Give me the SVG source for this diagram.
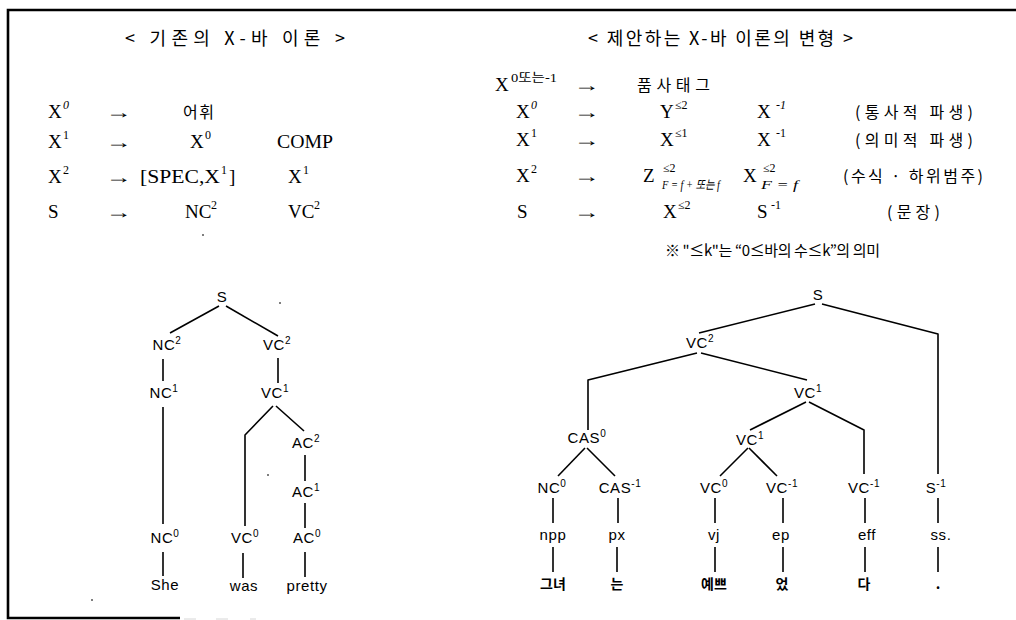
<svg xmlns="http://www.w3.org/2000/svg" width="1016" height="620" viewBox="0 0 1016 620">
  <style>
    .frame { stroke:#000; stroke-width:2.6; fill:none; }
    .ttl { font-family:"Noto Sans CJK KR", "Liberation Sans", sans-serif; font-size:18px; fill:#000; }
    .rl { font-family:"Liberation Serif", "Noto Sans CJK KR", serif; font-size:19px; fill:#000; }
    .arr { font-family:"Liberation Serif", serif; font-size:18px; fill:#000; }
    .sp { font-family:"Liberation Serif", "Noto Sans CJK KR", serif; font-size:12px; fill:#000; }
    .it { font-style:italic; }
    .kr { font-family:"Noto Sans CJK KR", sans-serif; font-size:16px; fill:#000; }
    .note { font-family:"Noto Sans CJK KR", "Liberation Sans", sans-serif; font-size:15px; fill:#000; }
    .nd { font-family:"Liberation Sans", "Noto Sans CJK KR", sans-serif; font-size:15px; text-anchor:middle; fill:#000; letter-spacing:0.6px; }
    .nk { font-family:"Noto Sans CJK KR", sans-serif; font-size:14px; text-anchor:middle; fill:#000; font-weight:bold; }
    .edge { stroke:#000; stroke-width:1.6; fill:none; stroke-linejoin:round; }
    .speck { fill:#555; }
  </style>

  <!-- frame -->
  <path class="frame" d="M1016,10 H8 V618 H180"/>
  <path d="M184,619 H196 M216,619 H228 M250,619 H256" stroke="#ccc" stroke-width="0.8"/>

  <!-- headings -->
  <text class="ttl" x="125" y="45" textLength="220" lengthAdjust="spacing">&lt; 기존의 X-바 이론 &gt;</text>
  <text class="ttl" x="588" y="45" textLength="265" lengthAdjust="spacing">&lt; 제안하는 X-바 이론의 변형 &gt;</text>

  <!-- standard X-bar rules -->
  <g id="rules-standard">
    <text class="rl" x="48" y="118">X</text><text class="sp it" x="63" y="109">0</text>
    <text class="arr" transform="translate(106,118) scale(1.45,1)">→</text>
    <text class="kr" x="183" y="118" textLength="31" lengthAdjust="spacing">어휘</text>

    <text class="rl" x="48" y="148">X</text><text class="sp" x="63" y="139">1</text>
    <text class="arr" transform="translate(106,148) scale(1.45,1)">→</text>
    <text class="rl" x="190" y="148">X</text><text class="sp" x="205" y="139">0</text>
    <text class="rl" x="277" y="148" textLength="56" lengthAdjust="spacingAndGlyphs">COMP</text>

    <text class="rl" x="48" y="183">X</text><text class="sp" x="63" y="174">2</text>
    <text class="arr" transform="translate(106,183) scale(1.45,1)">→</text>
    <text class="rl" x="140" y="183" textLength="80" lengthAdjust="spacingAndGlyphs">[SPEC,X</text><text class="sp" x="221" y="174">1</text><text class="rl" x="229" y="183">]</text>
    <text class="rl" x="288" y="183">X</text><text class="sp" x="303" y="174">1</text>

    <text class="rl" x="48" y="218">S</text>
    <text class="arr" transform="translate(106,218) scale(1.45,1)">→</text>
    <text class="rl" x="185" y="218">NC</text><text class="sp" x="211" y="209">2</text>
    <text class="rl" x="288" y="218">VC</text><text class="sp" x="314" y="209">2</text>
  </g>

  <!-- proposed X-bar rules -->
  <g id="rules-proposed">
    <text class="rl" x="495" y="91">X</text><text class="sp" x="511" y="82" textLength="46" lengthAdjust="spacingAndGlyphs">0또는-1</text>
    <text class="arr" transform="translate(574,91) scale(1.45,1)">→</text>
    <text class="kr" x="637" y="91" textLength="73" lengthAdjust="spacing">품사태그</text>

    <text class="rl" x="516" y="118">X</text><text class="sp it" x="531" y="109">0</text>
    <text class="arr" transform="translate(574,118) scale(1.45,1)">→</text>
    <text class="rl" x="660" y="118">Y</text><text class="sp" x="675" y="109">≤2</text>
    <text class="rl" x="757" y="118">X</text><text class="sp" x="776" y="109">-<tspan class="it">1</tspan></text>
    <text class="kr" x="855" y="118" textLength="118" lengthAdjust="spacing">(통사적 파생)</text>

    <text class="rl" x="516" y="146">X</text><text class="sp" x="531" y="137">1</text>
    <text class="arr" transform="translate(574,146) scale(1.45,1)">→</text>
    <text class="rl" x="660" y="146">X</text><text class="sp" x="675" y="137">≤1</text>
    <text class="rl" x="757" y="146">X</text><text class="sp" x="776" y="137">-1</text>
    <text class="kr" x="855" y="146" textLength="118" lengthAdjust="spacing">(의미적 파생)</text>

    <text class="rl" x="516" y="182">X</text><text class="sp" x="531" y="173">2</text>
    <text class="arr" transform="translate(574,182) scale(1.45,1)">→</text>
    <text class="rl" x="643" y="182">Z</text><text class="sp" x="663" y="172">≤2</text>
    <text class="sp it" x="662" y="189" textLength="58" lengthAdjust="spacingAndGlyphs">F = f + 또는 f</text>
    <text class="rl" x="743" y="182">X</text><text class="sp" x="763" y="172">≤2</text>
    <text class="sp it" x="761" y="189" textLength="37" lengthAdjust="spacingAndGlyphs">F = f</text>
    <text class="kr" x="843" y="182" textLength="140" lengthAdjust="spacing">(수식 · 하위범주)</text>

    <text class="rl" x="517" y="218">S</text>
    <text class="arr" transform="translate(574,218) scale(1.45,1)">→</text>
    <text class="rl" x="663" y="218">X</text><text class="sp" x="678" y="209">≤2</text>
    <text class="rl" x="757" y="218">S</text><text class="sp" x="771" y="209">-1</text>
    <text class="kr" x="887" y="218" textLength="53" lengthAdjust="spacing">(문장)</text>

    <text class="note" x="665" y="256" textLength="215" lengthAdjust="spacing">※ "≤k"는 “0≤바의 수≤k”의 의미</text>
  </g>

  <!-- scan specks -->
  <circle class="speck" cx="203" cy="235" r="1"/>
  <circle class="speck" cx="280" cy="303" r="1"/>
  <circle class="speck" cx="268" cy="475" r="1"/>
  <circle class="speck" cx="92" cy="600" r="1"/>

  <!-- connectors -->
  <g id="connectors">
    <!-- standard tree -->
    <path class="edge" d="M219,306 L170,333"/>
    <path class="edge" d="M226,306 L278,336"/>
    <path class="edge" d="M163,359 V381"/>
    <path class="edge" d="M278,358 V383"/>
    <path class="edge" d="M163,407 V524"/>
    <path class="edge" d="M273,406 L245,435 V526"/>
    <path class="edge" d="M276,406 L304,431"/>
    <path class="edge" d="M305,455 V481"/>
    <path class="edge" d="M305,503 V528"/>
    <path class="edge" d="M163,552 V576"/>
    <path class="edge" d="M243,553 V578"/>
    <path class="edge" d="M305,552 V577"/>
    <!-- proposed tree -->
    <path class="edge" d="M815,304 L699,333"/>
    <path class="edge" d="M822,304 L938,334 V474"/>
    <path class="edge" d="M697,353 L588,380 V430"/>
    <path class="edge" d="M701,353 L807,380"/>
    <path class="edge" d="M806,402 L750,430"/>
    <path class="edge" d="M809,402 L864,430 V474"/>
    <path class="edge" d="M585,448 L558,476"/>
    <path class="edge" d="M587,448 L615,476"/>
    <path class="edge" d="M748,448 L720,476"/>
    <path class="edge" d="M749,448 L777,476"/>
    <path class="edge" d="M553,498 V523"/>
    <path class="edge" d="M618,498 V523"/>
    <path class="edge" d="M715,498 V523"/>
    <path class="edge" d="M783,498 V523"/>
    <path class="edge" d="M865,498 V523"/>
    <path class="edge" d="M938,498 V523"/>
    <path class="edge" d="M553,547 V572"/>
    <path class="edge" d="M617,547 V572"/>
    <path class="edge" d="M715,547 V572"/>
    <path class="edge" d="M783,547 V572"/>
    <path class="edge" d="M865,547 V572"/>
    <path class="edge" d="M938,547 V572"/>
  </g>

  <!-- standard tree nodes -->
  <g id="std-S"><text class="nd" x="222" y="302">S</text></g>
  <g id="std-NC2"><text class="nd" x="167" y="350">NC<tspan dy="-6" font-size="10">2</tspan></text></g>
  <g id="std-VC2"><text class="nd" x="277" y="350">VC<tspan dy="-6" font-size="10">2</tspan></text></g>
  <g id="std-NC1"><text class="nd" x="164" y="398">NC<tspan dy="-6" font-size="10">1</tspan></text></g>
  <g id="std-VC1"><text class="nd" x="275" y="398">VC<tspan dy="-6" font-size="10">1</tspan></text></g>
  <g id="std-AC2"><text class="nd" x="306" y="448">AC<tspan dy="-6" font-size="10">2</tspan></text></g>
  <g id="std-AC1"><text class="nd" x="306" y="497">AC<tspan dy="-6" font-size="10">1</tspan></text></g>
  <g id="std-NC0"><text class="nd" x="165" y="543">NC<tspan dy="-6" font-size="10">0</tspan></text></g>
  <g id="std-VC0"><text class="nd" x="245" y="543">VC<tspan dy="-6" font-size="10">0</tspan></text></g>
  <g id="std-AC0"><text class="nd" x="307" y="543">AC<tspan dy="-6" font-size="10">0</tspan></text></g>
  <g id="std-she"><text class="nd" x="165" y="590">She</text></g>
  <g id="std-was"><text class="nd" x="244" y="591">was</text></g>
  <g id="std-pretty"><text class="nd" x="307" y="591">pretty</text></g>

  <!-- proposed tree nodes -->
  <g id="p-S"><text class="nd" x="818" y="300">S</text></g>
  <g id="p-VC2"><text class="nd" x="700" y="348">VC<tspan dy="-6" font-size="10">2</tspan></text></g>
  <g id="p-VC1a"><text class="nd" x="808" y="398">VC<tspan dy="-6" font-size="10">1</tspan></text></g>
  <g id="p-CAS0"><text class="nd" x="587" y="443">CAS<tspan dy="-6" font-size="10">0</tspan></text></g>
  <g id="p-VC1b"><text class="nd" x="750" y="445">VC<tspan dy="-6" font-size="10">1</tspan></text></g>
  <g id="p-NC0"><text class="nd" x="552" y="493">NC<tspan dy="-6" font-size="10">0</tspan></text></g>
  <g id="p-CASm1"><text class="nd" x="620" y="493">CAS<tspan dy="-6" font-size="10">-1</tspan></text></g>
  <g id="p-VC0"><text class="nd" x="714" y="493">VC<tspan dy="-6" font-size="10">0</tspan></text></g>
  <g id="p-VCm1a"><text class="nd" x="782" y="493">VC<tspan dy="-6" font-size="10">-1</tspan></text></g>
  <g id="p-VCm1b"><text class="nd" x="864" y="493">VC<tspan dy="-6" font-size="10">-1</tspan></text></g>
  <g id="p-Sm1"><text class="nd" x="936" y="493">S<tspan dy="-6" font-size="10">-1</tspan></text></g>
  <g id="p-npp"><text class="nd" x="553" y="540">npp</text></g>
  <g id="p-px"><text class="nd" x="617" y="540">px</text></g>
  <g id="p-vj"><text class="nd" x="714" y="540">vj</text></g>
  <g id="p-ep"><text class="nd" x="781" y="540">ep</text></g>
  <g id="p-eff"><text class="nd" x="867" y="540">eff</text></g>
  <g id="p-ss"><text class="nd" x="941" y="540">ss.</text></g>
  <g id="p-w1"><text class="nk" x="553" y="589">그녀</text></g>
  <g id="p-w2"><text class="nk" x="617" y="589">는</text></g>
  <g id="p-w3"><text class="nk" x="714" y="589">예쁘</text></g>
  <g id="p-w4"><text class="nk" x="782" y="589">었</text></g>
  <g id="p-w5"><text class="nk" x="864" y="589">다</text></g>
  <g id="p-w6"><text class="nk" x="938" y="589">.</text></g>
</svg>
